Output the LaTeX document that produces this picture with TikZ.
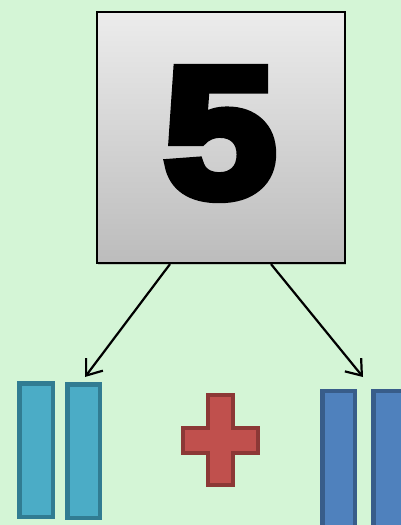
\documentclass[tikz,border=0pt]{standalone}
\usepackage{fontspec}
\newfontfamily\heavyfont[FakeBold=6,FakeStretch=1.1]{Liberation Sans Bold}
\usetikzlibrary{shadows,arrows.meta,calc}
\definecolor{bg}{RGB}{212,245,214}
\definecolor{boxtop}{RGB}{236,236,236}
\definecolor{boxbot}{RGB}{188,188,188}
\definecolor{tealfill}{RGB}{75,172,198}
\definecolor{tealline}{RGB}{49,124,146}
\definecolor{bluefill}{RGB}{79,129,189}
\definecolor{blueline}{RGB}{56,93,138}
\definecolor{redfill}{RGB}{192,80,77}
\definecolor{redline}{RGB}{140,56,54}
\tikzset{
  numbox/.style={draw=black, line width=2.2pt, top color=boxtop, bottom color=boxbot,
    minimum width=248pt, minimum height=251pt, inner sep=0pt,
    drop shadow={opacity=0.35, shadow xshift=1pt, shadow yshift=-1.5pt}},
  tealbar/.style={draw=tealline, fill=tealfill, line width=4.5pt, inner sep=0pt},
  bluebar/.style={draw=blueline, fill=bluefill, line width=4.5pt, inner sep=0pt},
  plusshape/.style={draw=redline, fill=redfill, line width=4.5pt, line join=miter},
  arr/.style={line width=2.2pt, -{Straight Barb[length=14pt,width=21pt,line width=2.2pt]}}
}
\begin{document}
\begin{tikzpicture}[x=1pt,y=-1pt]
\useasboundingbox (0,0) rectangle (401,525);
\clip (0,0) rectangle (401,525);
\fill[bg] (0,0) rectangle (401,525);
\node[numbox] (five) at (221,137.5) {};
\node[inner sep=0pt] (digit) at (220,133.5) {\heavyfont\fontsize{184pt}{184pt}\selectfont 5};
\node[tealbar, minimum width=33.5pt, minimum height=133.5pt] (t1) at (36,450) {};
\node[tealbar, minimum width=32.5pt, minimum height=133.5pt] (t2) at (83.5,451) {};
\node[bluebar, minimum width=32.5pt, minimum height=149pt] (b1) at (338.5,465.5) {};
\node[bluebar, minimum width=32.5pt, minimum height=149pt] (b2) at (389.5,465.5) {};
\draw[plusshape] (208,395) -- (233,395) -- (233,428) -- (258,428) -- (258,453) -- (233,453)
  -- (233,485) -- (208,485) -- (208,453) -- (183,453) -- (183,428) -- (208,428) -- cycle;
\coordinate (la) at ($(five.south)+(-51,0)$);
\coordinate (ra) at ($(five.south)+(50,0)$);
\coordinate (lt) at (85,377);
\coordinate (rt) at (363,377);
\draw[arr] (la) -- (lt);
\draw[arr] (ra) -- (rt);
\end{tikzpicture}
\end{document}
